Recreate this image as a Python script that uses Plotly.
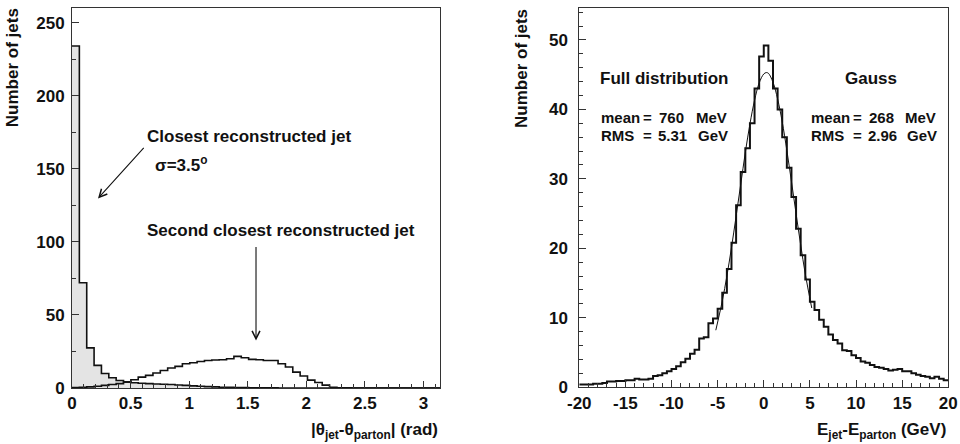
import numpy as np
import plotly.graph_objects as go

# ---------------- data ----------------
theta_nbins = 50
theta_lo, theta_hi = 0.0, np.pi
closest_counts = [234, 72, 27.5, 15.5, 10, 7, 5.2, 4.2, 3.6, 3.3,
                  3.0, 2.8, 2.6, 2.4, 2.1, 1.8, 1.5, 1.2, 1.0, 0.8,
                  0.6, 0.5, 0.4, 0.3, 0.2, 0.2, 0.1, 0.1, 0, 0,
                  0, 0, 0, 0, 0, 0, 0, 0, 0, 0,
                  0, 0, 0, 0, 0, 0, 0, 0, 0, 0]
second_counts = [0.3, 0.5, 0.8, 1.2, 1.8, 2.4, 3.0, 4.0, 5.7, 7.5,
                 8.7, 10.3, 12.0, 13.7, 14.8, 16.6, 17.3, 18.2, 18.9, 19.2,
                 19.4, 20.0, 21.7, 20.7, 19.6, 19.4, 18.9, 18.9, 16.6, 14.4,
                 10.9, 8.2, 5.4, 3.8, 2.0, 0.6, 0.2, 0.1, 0, 0,
                 0, 0, 0, 0, 0, 0, 0, 0, 0, 0]

e_nbins = 80
e_lo, e_hi = -20.0, 20.0
e_counts = [0.4, 0.4, 0.4, 0.5, 0.5, 0.6, 0.8, 0.8, 0.9, 0.9,
            1.0, 1.0, 1.2, 1.1, 1.1, 1.2, 1.6, 1.7, 2.0, 2.3,
            2.6, 3.0, 3.6, 4.1, 4.8, 5.4, 7.0, 7.2, 9.2, 9.9,
            11.3, 13.6, 17.0, 20.8, 26.2, 31.0, 34.4, 38.0, 43.0, 47.6,
            49.2, 47.0, 43.0, 40.0, 36.0, 31.6, 27.4, 22.8, 19.0, 15.5,
            12.3, 11.1, 9.7, 8.7, 7.6, 6.8, 6.3, 5.3, 5.2, 4.6,
            4.2, 3.7, 3.5, 3.2, 2.9, 2.8, 2.6, 2.4, 2.5, 2.6,
            2.3, 2.3, 2.0, 1.8, 1.6, 1.5, 1.3, 1.5, 1.2, 1.0]

fit_x = [-5.2, -4.5, -4, -3.5, -3, -2.5, -2, -1.5, -1, -0.5, 0, 0.27,
         0.5, 1, 1.5, 2, 2.5, 3, 3.5, 4, 4.5, 5.2]
fit_y = [8.2, 12.4, 16.0, 20.1, 24.6, 29.2, 33.8, 37.9, 41.3, 43.8, 45.1, 45.3,
         45.2, 43.9, 41.5, 38.2, 34.1, 29.6, 25.0, 20.5, 16.3, 11.4]

left_xticks = [0, 0.5, 1, 1.5, 2, 2.5, 3]
left_xlabels = ["0", "0.5", "1", "1.5", "2", "2.5", "3"]
left_yticks = [0, 50, 100, 150, 200, 250]
right_xticks = [-20, -15, -10, -5, 0, 5, 10, 15, 20]
right_xlabels = ["-20", "-15", "-10", "-5", "0", "5", "10", "15", "20"]
right_yticks = [0, 10, 20, 30, 40, 50]

# ---------------- helpers ----------------
def step_xy(lo, hi, n, counts):
    edges = np.linspace(lo, hi, n + 1)
    return edges, list(counts) + [counts[-1]]

FONT = "Liberation Sans, Arial, Helvetica, sans-serif"
INK = "#111111"

fig = go.Figure()

tx, ty = step_xy(theta_lo, theta_hi, theta_nbins, closest_counts)
fig.add_trace(go.Scatter(x=tx, y=ty, mode="lines", line=dict(shape="hv", color=INK, width=1.6),
                         fill="tozeroy", fillcolor="#e4e4e4", xaxis="x", yaxis="y", showlegend=False))
sx, sy = step_xy(theta_lo, theta_hi, theta_nbins, second_counts)
fig.add_trace(go.Scatter(x=sx, y=sy, mode="lines", line=dict(shape="hv", color=INK, width=1.6),
                         xaxis="x", yaxis="y", showlegend=False))

ex, ey = step_xy(e_lo, e_hi, e_nbins, e_counts)
fig.add_trace(go.Scatter(x=ex, y=ey, mode="lines", line=dict(shape="hv", color=INK, width=2.0),
                         xaxis="x2", yaxis="y2", showlegend=False))
fig.add_trace(go.Scatter(x=fit_x, y=fit_y, mode="lines", line=dict(shape="spline", color=INK, width=1.0),
                         xaxis="x2", yaxis="y2", showlegend=False))

axis_common = dict(showline=True, linecolor="#333333", linewidth=1, mirror=True,
                   ticks="inside", tickcolor="#333333", ticklen=7, tickwidth=1,
                   showgrid=False, zeroline=False, automargin=False,
                   tickfont=dict(family=FONT, size=17, color=INK, weight="bold"))

fig.update_layout(
    width=960, height=444,
    margin=dict(l=0, r=0, t=0, b=0),
    paper_bgcolor="white", plot_bgcolor="white",
    font=dict(family=FONT, size=17, color=INK),
    xaxis=dict(domain=[0.075, 0.4583], range=[theta_lo, theta_hi], anchor="y",
               tickvals=left_xticks, ticktext=left_xlabels,
               minor=dict(dtick=0.1, ticks="inside", ticklen=4, tickcolor="#333333"),
               **axis_common),
    yaxis=dict(domain=[0.126, 0.982], range=[0, 260], anchor="x",
               tickvals=left_yticks, ticklabelstandoff=3,
               minor=dict(dtick=25, ticks="inside", ticklen=4, tickcolor="#333333"),
               **axis_common),
    xaxis2=dict(domain=[0.6034, 0.9878], range=[e_lo, e_hi], anchor="y2",
                tickvals=right_xticks, ticktext=right_xlabels,
                minor=dict(dtick=1, ticks="inside", ticklen=4, tickcolor="#333333"),
                **axis_common),
    yaxis2=dict(domain=[0.128, 0.982], range=[0, 54.6], anchor="x2",
                tickvals=right_yticks, ticklabelstandoff=7,
                minor=dict(dtick=2, ticks="inside", ticklen=4, tickcolor="#333333"),
                **axis_common),
)

def txt(s, x, y, xref="x", yref="y", xanchor="left", yanchor="middle", size=17, angle=0):
    fig.add_annotation(text="<b>" + s + "</b>", x=x, y=y, xref=xref, yref=yref,
                       xanchor=xanchor, yanchor=yanchor, showarrow=False, textangle=angle,
                       font=dict(family=FONT, size=size, color=INK))

# axis titles
txt("Number of jets", 0.0125, 0.985, xref="paper", yref="paper", xanchor="center", yanchor="top", angle=-90)
txt("Number of jets", 0.5425, 0.985, xref="paper", yref="paper", xanchor="center", yanchor="top", angle=-90)
txt("|θ<sub>jet</sub>-θ<sub>parton</sub>| (rad)", 0.4583, 0.03, xref="paper", yref="paper",
    xanchor="right", yanchor="middle")
txt("E<sub>jet</sub>-E<sub>parton</sub> (GeV)", 0.9878, 0.03, xref="paper", yref="paper",
    xanchor="right", yanchor="middle")

# left panel annotations
txt("Closest reconstructed jet", 0.624, 172, xref="x", yref="y")
txt("σ=3.5<sup>o</sup>", 0.693, 153, xref="x", yref="y")
txt("Second closest reconstructed jet", 0.624, 108, xref="x", yref="y")
fig.add_annotation(x=0.222, y=129.7, ax=0.624, ay=165.3, xref="x", yref="y", axref="x", ayref="y",
                   showarrow=True, arrowhead=5, arrowsize=1.4, arrowwidth=1.1, arrowcolor=INK, text="")
fig.add_annotation(x=1.571, y=32.6, ax=1.571, ay=97.6, xref="x", yref="y", axref="x", ayref="y",
                   showarrow=True, arrowhead=5, arrowsize=1.4, arrowwidth=1.1, arrowcolor=INK, text="")

# right panel annotations
SS = 15
txt("Full distribution", -17.97, 44.5, xref="x2", yref="y2")
txt("Gauss", 11.65, 44.5, xref="x2", yref="y2", xanchor="center")
for lab, ypos in (("mean", 38.9), ("RMS", 36.2)):
    txt(lab, -17.86, ypos, xref="x2", yref="y2", size=SS)
    txt("=", -12.6, ypos, xref="x2", yref="y2", size=SS, xanchor="center")
    txt(lab, 4.94, ypos, xref="x2", yref="y2", size=SS)
    txt("=", 10.15, ypos, xref="x2", yref="y2", size=SS, xanchor="center")
txt("760", -10.0, 38.9, xref="x2", yref="y2", size=SS, xanchor="center")
txt("5.31", -9.9, 36.2, xref="x2", yref="y2", size=SS, xanchor="center")
txt("MeV", -7.6, 38.9, xref="x2", yref="y2", size=SS)
txt("GeV", -7.4, 36.2, xref="x2", yref="y2", size=SS)
txt("268", 12.8, 38.9, xref="x2", yref="y2", size=SS, xanchor="center")
txt("2.96", 12.9, 36.2, xref="x2", yref="y2", size=SS, xanchor="center")
txt("MeV", 15.1, 38.9, xref="x2", yref="y2", size=SS)
txt("GeV", 15.3, 36.2, xref="x2", yref="y2", size=SS)

fig.write_html("out.html", config={"displayModeBar": False},
               post_script="document.body.style.margin='0';")
